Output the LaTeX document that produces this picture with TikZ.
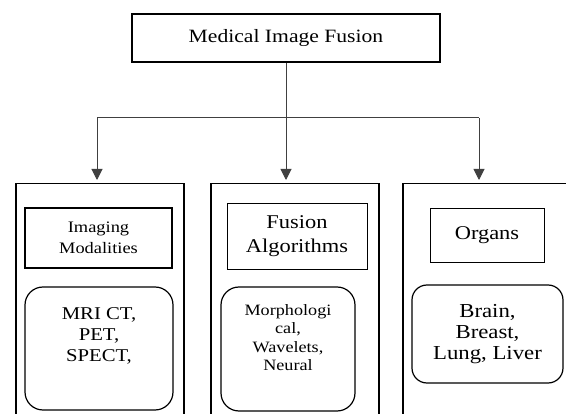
\documentclass[tikz,border=0pt]{standalone}
\usepackage{fontspec}
\setmainfont[FakeStretch=1.15]{Liberation Serif}
\usetikzlibrary{arrows.meta}
\begin{document}
\begin{tikzpicture}[x=1pt,y=-1pt,
  outer/.style={draw=black,line width=1.5pt,inner sep=0pt},
  topbox/.style={draw=black,line width=1.5pt,minimum width=308pt,minimum height=48pt,inner sep=0pt,font=\fontsize{18.8}{22}\selectfont},
  hdr/.style={draw=black,line width=1pt,inner sep=0pt,align=center},
  rbox/.style={draw=black,line width=1.2pt,rounded corners=18pt,inner sep=0pt,align=center},
  conn/.style={draw=black!75,line width=1pt},
  arr/.style={conn,-{Triangle[width=11pt,length=11pt]},shorten >=3pt}
]
\useasboundingbox (0,0) rectangle (566,414);
\clip (0,0) rectangle (566,414);
% top
\node[topbox] (top) at (286,38) {Medical Image Fusion};
% outer columns
\node[outer,minimum width=168pt,minimum height=247pt,anchor=north west] (colL) at (15,183) {};
\node[outer,minimum width=168pt,minimum height=247pt,anchor=north west] (colM) at (210,183) {};
\node[outer,minimum width=178pt,minimum height=247pt,anchor=north west] (colR) at (402,183) {};
% connectors
\coordinate (j) at (286,118);
\coordinate (jl) at (97,118);
\coordinate (jr) at (479,118);
\draw[conn] (top.south) -- (j);
\draw[conn] (jl) -- (jr);
\draw[arr] (jl) -- (jl |- colL.north);
\draw[arr] (j) -- (j |- colM.north);
\draw[arr] (jr) -- (jr |- colR.north);
% headers
\node[hdr,line width=1.5pt,minimum width=147pt,minimum height=60pt,font=\fontsize{16}{21}\selectfont] (hL) at (98.5,238) {Imaging\\Modalities};
\node[hdr,line width=0.8pt,minimum width=140pt,minimum height=66pt,font=\fontsize{19.5}{24}\selectfont] (hM) at (297,236) {Fusion\\Algorithms};
\node[hdr,line width=0.8pt,minimum width=114pt,minimum height=54pt,font=\fontsize{19.5}{24}\selectfont] (hR) at (487,235) {Organs};
% rounded boxes
\node[rbox,minimum width=148pt,minimum height=123pt,font=\fontsize{18}{21}\selectfont] (rL) at (99,348.5) {MRI CT,\\PET,\\SPECT,\\[6pt]};
\node[rbox,minimum width=134pt,minimum height=124pt,font=\fontsize{15.8}{18.5}\selectfont] (rM) at (288,349) {Morphologi\\cal,\\Wavelets,\\Neural\\[4pt]};
\node[rbox,rounded corners=15pt,minimum width=151pt,minimum height=98pt,font=\fontsize{19.8}{21}\selectfont] (rR) at (487.5,334) {Brain,\\Breast,\\Lung, Liver};
\end{tikzpicture}
\end{document}
